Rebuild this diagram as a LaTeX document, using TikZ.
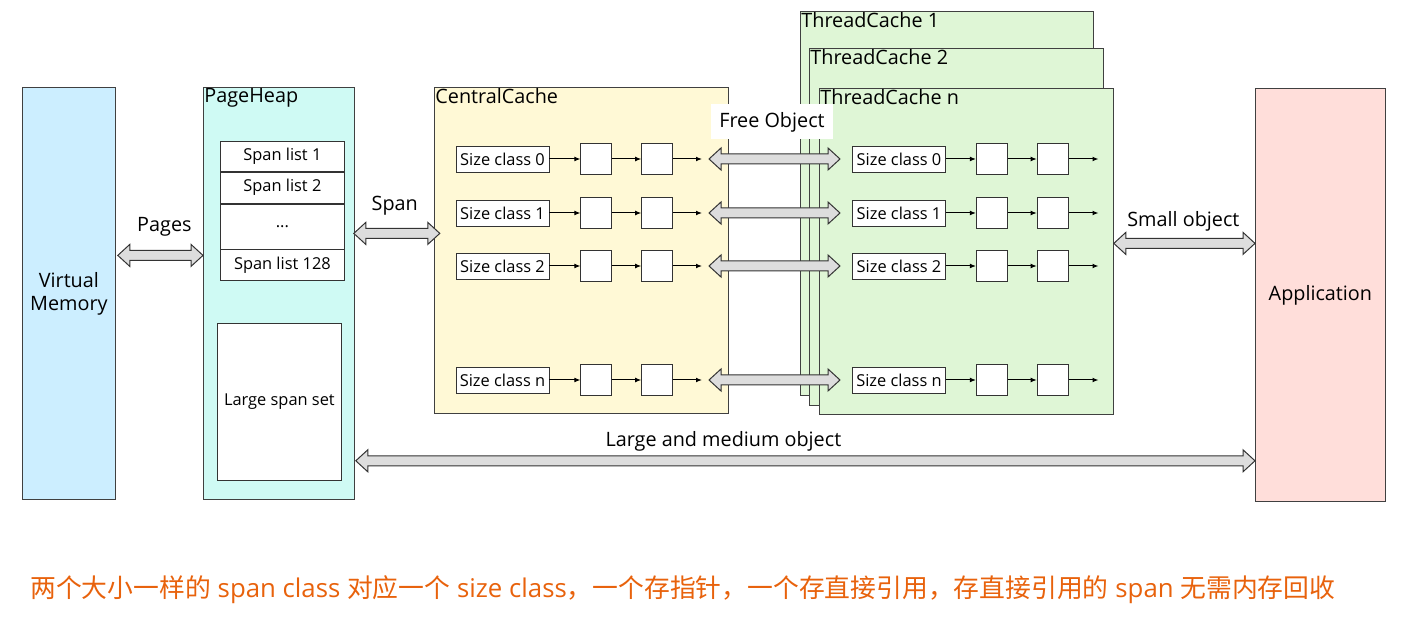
\documentclass[tikz,border=0pt]{standalone}
\usepackage{fontspec}
\setmainfont{Open Sans}
\newfontfamily\cjk{Noto Sans CJK SC}
\usetikzlibrary{positioning,calc,arrows.meta}
\definecolor{vmblue}{HTML}{CCEEFF}
\definecolor{phcyan}{HTML}{CFFAF4}
\definecolor{ccyellow}{HTML}{FFF9D6}
\definecolor{tcgreen}{HTML}{DFF6D6}
\definecolor{appred}{HTML}{FFDEDA}
\definecolor{arrgray}{HTML}{DDDDDD}
\definecolor{noteorange}{HTML}{E8620C}
\tikzset{
  region/.style={draw=black!75, inner sep=0, anchor=north west},
  title/.style={anchor=north west, inner sep=0.5pt, font=\fontsize{9.9}{11}\selectfont},
  lbl/.style={inner sep=1pt, font=\fontsize{9.9}{11.5}\selectfont},
  classbox/.style={draw=black!80, fill=white, minimum width=46.5pt, minimum height=13pt, inner sep=0, font=\fontsize{8.2}{9}\selectfont},
  objbox/.style={draw=black!80, fill=white, minimum width=15.5pt, minimum height=15.5pt, inner sep=0},
  spanrow/.style={draw=black!80, fill=white, minimum width=62pt, inner sep=0, font=\fontsize{8.2}{9}\selectfont},
  link/.style={-{Latex[length=3pt,width=2.4pt]}, black, line width=0.5pt},
  fat/.style={draw=black!80, fill=arrgray, line width=0.5pt, line join=miter}
}
% fat double arrow between two named points
\newcommand{\fatarrow}[2]{%
  \path[fat] (#1) -- ++(12,-11) -- ++(0,6) -- ($(#2)+(-12,-5)$) -- ++(0,-6)
    -- (#2) -- ++(-12,11) -- ++(0,-6) -- ($(#1)+(12,5)$) -- ++(0,6) -- cycle;}

\begin{document}
\begin{tikzpicture}[x=0.5pt, y=-0.5pt]
  \useasboundingbox (0,0) rectangle (1404,619);

  % main regions
  \node [region, fill=vmblue, minimum width=46.5pt, minimum height=206pt] (vm) at (22,87) {};
  \node [lbl, align=center] at (vm.center) {Virtual\\Memory};
  \node [region, fill=phcyan, minimum width=75.5pt, minimum height=206pt] (pheap) at (203,87) {};
  \node [title] at (pheap.north west) {PageHeap};
  \node [region, fill=ccyellow, minimum width=147pt, minimum height=163pt] (ccache) at (434,87) {};
  \node [title] at (ccache.north west) {CentralCache};
  \node [region, fill=tcgreen, minimum width=146.5pt, minimum height=192pt] (tc1) at (800,11) {};
  \node [title] at (tc1.north west) {ThreadCache 1};
  \node [region, fill=tcgreen, minimum width=147pt, minimum height=178.5pt] (tc2) at (809,48) {};
  \node [title] at (tc2.north west) {ThreadCache 2};
  \node [region, fill=tcgreen, minimum width=147pt, minimum height=163pt] (tcn) at (819,88) {};
  \node [title] at (tcn.north west) {ThreadCache n};
  \node [region, fill=appred, minimum width=65pt, minimum height=206.5pt] (app) at (1255,88) {};
  \node [lbl] at (app.center) {Application};

  % page heap contents
  \node [spanrow, minimum height=15pt, anchor=north west] (spl1) at (220,141) {Span list 1};
  \node [spanrow, minimum height=15.5pt, below=0pt of spl1] (spl2) {Span list 2};
  \node [spanrow, minimum height=22.5pt, below=0pt of spl2] (spldots) {...};
  \node [spanrow, minimum height=15.5pt, below=0pt of spldots] (spl128) {Span list 128};
  \node [spanrow, minimum height=78.5pt, anchor=north west] (largeset) at (217,323) {Large span set};

  % size class lists
  \foreach \i/\y/\lab in {0/159/0, 1/213/1, 2/266/2, 3/380/n} {
    \node [classbox] (csc\i) at (502.5,\y) {Size class \lab};
    \node [objbox, right=15.5pt of csc\i] (cobja\i) {};
    \node [objbox, right=14.5pt of cobja\i] (cobjb\i) {};
    \coordinate [right=14.5pt of cobjb\i] (cend\i);
    \draw [link] (csc\i) -- (cobja\i);
    \draw [link] (cobja\i) -- (cobjb\i);
    \draw [link] (cobjb\i) -- (cend\i);
    \node [classbox] (tsc\i) at (899,\y) {Size class \lab};
    \node [objbox, right=15pt of tsc\i] (tobja\i) {};
    \node [objbox, right=14.5pt of tobja\i] (tobjb\i) {};
    \coordinate [right=15pt of tobjb\i] (tend\i);
    \draw [link] (tsc\i) -- (tobja\i);
    \draw [link] (tobja\i) -- (tobjb\i);
    \draw [link] (tobjb\i) -- (tend\i);
    \fatarrow{709,\y}{840,\y}
  }
  \node [fill=white, minimum width=61pt, minimum height=17.5pt, inner sep=0, font=\fontsize{9.9}{11.5}\selectfont] (freeobj) at (772,122) {Free Object};

  % transfers
  \coordinate (pgl) at ($(vm.east)+(2,-38)$);
  \coordinate (pgr) at (pgl -| pheap.west);
  \fatarrow{pgl}{pgr}
  \node [lbl] at ($(pgl)!0.5!(pgr)+(4,-29)$) {Pages};
  \coordinate (spnl) at ($(pheap.east)+(-1,-60)$);
  \coordinate (spnr) at ($(spnl)+(86,0)$);
  \fatarrow{spnl}{spnr}
  \node [lbl] at ($(spnl)!0.5!(spnr)+(-2,-28)$) {Span};
  \coordinate (sml) at ($(tcn.east)+(0,-8)$);
  \coordinate (smr) at (sml -| app.west);
  \fatarrow{sml}{smr}
  \node [lbl] at ($(sml)!0.5!(smr)+(-1,-22)$) {Small object};
  \coordinate (lgl) at ($(pheap.south east)+(1,-39)$);
  \coordinate (lgr) at (lgl -| app.west);
  \fatarrow{lgl}{lgr}
  \node [lbl] at ($(lgl)!0.5!(lgr)+(-82,-19)$) {Large and medium object};

  % note
  \node [anchor=west, inner sep=0, text=noteorange, font=\fontsize{12.9}{15}\selectfont] (note) at (30,590) {{\cjk 两个大小一样的} span class {\cjk 对应一个} size class{\cjk ，一个存指针，一个存直接引用，存直接引用的} span {\cjk 无需内存回收}};
\end{tikzpicture}
\end{document}
